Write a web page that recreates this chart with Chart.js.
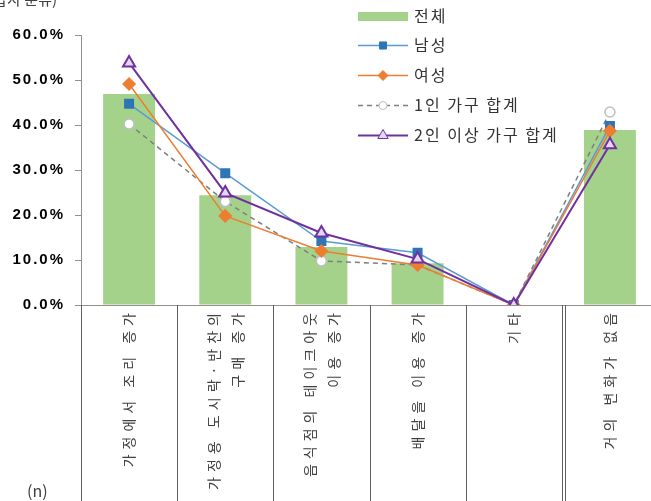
<!DOCTYPE html>
<html>
<head>
<meta charset="utf-8">
<script src="https://cdn.jsdelivr.net/npm/chart.js@4"></script>
<style>
html, body { margin: 0; padding: 0; background: #fff; overflow: hidden; }
#wrap { position: absolute; left: 0; top: 0; width: 667px; height: 501px; }
</style>
</head>
<body>
<div id="wrap"><canvas id="chart" width="667" height="501"></canvas></div>
<script>
// categories (multi-line labels) and series values in %
const categories = [
    ['가정에서 조리 증가'],
    ['가정용 도시락·반찬의', '구매 증가'],
    ['음식점의 테이크아웃', '이용 증가'],
    ['배달을 이용 증가'],
    ['기타'],
    ['거의 변화가 없음']
];
const totalValues  = [46.9, 24.4, 12.9, 9.3, 0, 38.9];
const maleValues   = [44.7, 29.3, 14.2, 11.6, 0, 39.8];
const femaleValues = [49.1, 19.8, 12.0, 8.9, 0, 38.7];
const singleValues = [40.2, 23.0, 9.8, 8.9, 0, 42.9];
const multiValues  = [53.8, 24.9, 16.0, 10.2, 0, 35.6];
const yTickValues  = [0, 10, 20, 30, 40, 50, 60];

const KFONT = '"Noto Sans CJK KR", "Noto Sans", sans-serif';

// wider tracking for the bold y tick labels
const trackingPlugin = {
    id: 'trackingPlugin',
    beforeDraw(chart) { chart.ctx.letterSpacing = '2px'; },
    afterDatasetsDraw(chart) { chart.ctx.letterSpacing = '0px'; }
};

// draw vertical separators below the axis, rotated category labels, notes
const tablePlugin = {
    id: 'tablePlugin',
    afterDraw(chart) {
        const ctx = chart.ctx;
        const area = chart.chartArea;
        const xs = chart.scales.x;
        const n = categories.length;
        const w = (area.right - area.left) / n;
        ctx.save();
        ctx.letterSpacing = '0px';
        ctx.strokeStyle = '#606060';
        ctx.lineWidth = 1;
        for (let i = 0; i <= n; i++) {
            const x = Math.round(area.left + i * w) + 0.5;
            ctx.beginPath();
            ctx.moveTo(x, area.bottom);
            ctx.lineTo(x, chart.height);
            ctx.stroke();
            if (i === 5) {
                ctx.beginPath();
                ctx.moveTo(x + 3, area.bottom);
                ctx.lineTo(x + 3, chart.height);
                ctx.stroke();
            }
        }
        // labels
        ctx.fillStyle = '#404040';
        ctx.font = '14px ' + KFONT;
        ctx.letterSpacing = '5px';
        ctx.textAlign = 'right';
        ctx.textBaseline = 'middle';
        const lineH = 24;
        categories.forEach((lines, i) => {
            const cx = xs.getPixelForValue(i);
            lines.forEach((line, j) => {
                const off = (j - (lines.length - 1) / 2) * lineH;
                ctx.save();
                ctx.translate(cx + off, area.bottom + 3);
                ctx.rotate(-Math.PI / 2);
                ctx.fillText(line, 0, 0);
                ctx.restore();
            });
        });
        ctx.letterSpacing = '0px';
        // notes
        ctx.textAlign = 'left';
        ctx.textBaseline = 'alphabetic';
        ctx.font = '16px ' + KFONT;
        ctx.fillText('(n)', 27, 497);
        ctx.font = '15px ' + KFONT;
        ctx.textAlign = 'right';
        ctx.fillText('(응답자 분류)', 57, 5);
        ctx.restore();
    }
};

// legend drawn over the plot area at top right
const legendPlugin = {
    id: 'legendPlugin',
    afterDraw(chart) {
        const ctx = chart.ctx;
        const ys = [16, 45, 75, 105, 135];
        const x0 = 358, x1 = 408;
        ctx.save();
        chart.data.datasets.forEach((ds, i) => {
            const y = ys[i];
            if (ds.type === 'bar') {
                ctx.fillStyle = ds.backgroundColor;
                ctx.fillRect(x0, y - 4, x1 - x0, 9);
            } else {
                ctx.strokeStyle = ds.borderColor;
                ctx.lineWidth = ds.borderWidth;
                ctx.setLineDash(ds.borderDash || []);
                ctx.beginPath();
                ctx.moveTo(x0, y + 0.5);
                ctx.lineTo(x1, y + 0.5);
                ctx.stroke();
                ctx.setLineDash([]);
                ctx.fillStyle = ds.pointBackgroundColor;
                ctx.strokeStyle = ds.pointBorderColor;
                ctx.lineWidth = 1;
                Chart.helpers.drawPoint(ctx, {
                    pointStyle: ds.pointStyle,
                    radius: ds.pointRadius - 1,
                    borderWidth: 1
                }, (x0 + x1) / 2, y + 0.5);
            }
            ctx.fillStyle = '#333';
            ctx.font = '16px ' + KFONT;
            ctx.letterSpacing = '2px';
            ctx.textAlign = 'left';
            ctx.textBaseline = 'middle';
            ctx.fillText(ds.label, 414, y);
            ctx.letterSpacing = '0px';
        });
        ctx.restore();
    }
};

new Chart(document.getElementById('chart'), {
    data: {
        labels: categories.map(c => c.join(' ')),
        datasets: [
            {
                type: 'bar',
                label: '전체',
                data: totalValues,
                backgroundColor: '#a5d28a',
                barPercentage: 0.54,
                categoryPercentage: 1,
                order: 10
            },
            {
                type: 'line',
                label: '남성',
                data: maleValues,
                borderColor: '#5b9bd5',
                borderWidth: 1.5,
                pointStyle: 'rect',
                pointRadius: 6,
                pointBackgroundColor: '#2e75b6',
                pointBorderColor: '#2e75b6',
                order: 3
            },
            {
                type: 'line',
                label: '여성',
                data: femaleValues,
                borderColor: '#ed7d31',
                borderWidth: 1.5,
                pointStyle: 'rectRot',
                pointRadius: 6,
                pointBackgroundColor: '#ed7d31',
                pointBorderColor: '#ed7d31',
                order: 2
            },
            {
                type: 'line',
                label: '1인 가구 합계',
                data: singleValues,
                borderColor: '#7f7f7f',
                borderWidth: 1.5,
                borderDash: [5, 4],
                pointStyle: 'circle',
                pointRadius: 5,
                pointBackgroundColor: '#ffffff',
                pointBorderColor: '#bfbfbf',
                order: 4
            },
            {
                type: 'line',
                label: '2인 이상 가구 합계',
                data: multiValues,
                borderColor: '#7030a0',
                borderWidth: 2,
                pointStyle: 'triangle',
                pointRadius: 7,
                pointBackgroundColor: '#e4d7f3',
                pointBorderColor: '#7030a0',
                order: 1
            }
        ]
    },
    options: {
        responsive: false,
        animation: false,
        layout: { padding: { top: 35, right: 3, left: 0, bottom: 0 } },
        plugins: {
            legend: { display: false },
            tooltip: { enabled: false }
        },
        scales: {
            x: {
                ticks: { display: false },
                grid: { display: false },
                border: { color: '#909090' },
                afterFit(scale) { scale.height = 196; }
            },
            y: {
                min: 0,
                max: 60,
                afterBuildTicks(scale) { scale.ticks = yTickValues.map(v => ({ value: v })); },
                ticks: {
                    callback: v => v.toFixed(1) + '%',
                    color: '#000',
                    padding: 10,
                    font: { family: 'Liberation Sans', weight: 'bold', size: 15 }
                },
                grid: { drawOnChartArea: false, tickLength: 6, color: '#909090' },
                border: { color: '#909090' },
                afterFit(scale) { scale.width = 81; }
            }
        }
    },
    plugins: [trackingPlugin, tablePlugin, legendPlugin]
});
</script>
</body>
</html>
